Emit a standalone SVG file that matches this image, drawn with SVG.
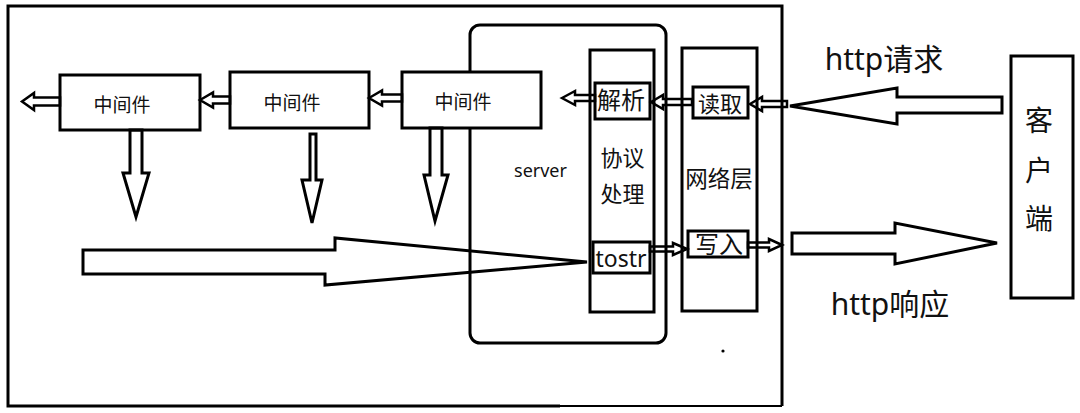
<svg xmlns="http://www.w3.org/2000/svg" width="1080" height="413" viewBox="0 0 1080 413">
  <style>
    .box { fill: #fff; stroke: #000; stroke-width: 3; }
    .open { fill: none; stroke: #000; stroke-width: 3; }
    .arr { fill: none; stroke: #000; stroke-width: 2.5; stroke-linejoin: miter; }
    .big { fill: none; stroke: #000; stroke-width: 3; stroke-linejoin: miter; }
    text { font-family: "Noto Sans", "Noto Sans CJK SC", sans-serif; fill: #111; text-anchor: middle; }
  </style>
  <rect x="0" y="0" width="1080" height="413" fill="#fff"/>

  <g id="frame">
    <path class="open" d="M560,406 L8,406 L8,6 L782,6 L782,406"/>
    <path d="M560,406 L782,406" fill="none" stroke="#000" stroke-width="2"/>
    <circle cx="723" cy="351" r="1.6" fill="#000"/>
  </g>

  <g id="server">
    <rect class="open" x="470" y="25" width="196" height="318" rx="10"/>
    <text x="540.5" y="177" font-size="18">server</text>
  </g>

  <g id="middleware1">
    <rect class="box" x="60" y="75" width="140" height="55"/>
    <text x="122" y="112" font-size="19">中间件</text>
  </g>
  <g id="middleware2">
    <rect class="box" x="230" y="72" width="139" height="56"/>
    <text x="292" y="110" font-size="19">中间件</text>
  </g>
  <g id="middleware3">
    <rect class="box" x="402" y="72" width="139" height="56"/>
    <text x="463" y="109" font-size="19">中间件</text>
  </g>

  <g id="protocol">
    <rect class="box" x="590" y="50" width="64" height="262"/>
    <text x="622.5" y="166" font-size="22">协议</text>
    <text x="622.5" y="202" font-size="22">处理</text>
  </g>
  <g id="parse">
    <rect class="box" x="595" y="83" width="55" height="36"/>
    <text x="621" y="109" font-size="24">解析</text>
  </g>
  <g id="tostr">
    <rect class="box" x="593" y="242" width="57" height="31"/>
    <text x="621" y="267" font-size="23">tostr</text>
  </g>

  <g id="network">
    <rect class="box" x="682" y="48" width="75" height="263"/>
    <text x="719" y="187" font-size="22.5">网络层</text>
  </g>
  <g id="read">
    <rect class="box" x="693" y="87" width="55" height="31"/>
    <text x="720" y="112" font-size="22">读取</text>
  </g>
  <g id="write">
    <rect class="box" x="688" y="231" width="60" height="26"/>
    <text x="719" y="253" font-size="24">写入</text>
  </g>

  <g id="client">
    <rect class="box" x="1011" y="56" width="62" height="242"/>
    <text x="1039" y="131" font-size="28">客</text>
    <text x="1039" y="181" font-size="28">户</text>
    <text x="1039" y="229" font-size="28">端</text>
  </g>

  <g id="labels">
    <text x="884" y="70" font-size="30">http请求</text>
    <text x="890" y="315" font-size="30">http响应</text>
  </g>

  <g id="connectors">
    <!-- small left-pointing arrows -->
    <polygon class="arr" points="22,101.5 34,93 34,97.5 60,97.5 60,105.5 34,105.5 34,110"/>
    <polygon class="arr" points="200,100 213,92.5 213,96.5 230,96.5 230,103.5 213,103.5 213,107.5"/>
    <polygon class="arr" points="369,98 382,90.5 382,94.5 402,94.5 402,101.5 382,101.5 382,105.5"/>
    <polygon class="arr" points="562,98 575,91 575,95 595,95 595,101 575,101 575,105"/>
    <polygon class="arr" points="651,102 663,95 663,99 692,99 692,105 663,105 663,109"/>
    <polygon class="arr" points="750,104 762,97 762,101 787,101 787,107 762,107 762,111"/>
    <!-- small right-pointing arrows -->
    <polygon class="arr" points="687,249 673,243 673,246.5 650,246.5 650,251.5 673,251.5 673,255"/>
    <polygon class="arr" points="782,245 769,239 769,242.5 748,242.5 748,247.5 769,247.5 769,251"/>
    <!-- down arrows -->
    <polygon class="big" points="130,130 130,173 123,173 136,217 149,173 142,173 142,130"/>
    <polygon class="big" points="310,134 310,180 302,180 312,223 322,180 316,180 316,134"/>
    <polygon class="big" points="430,128 430,175 424,175 435,221 448,175 442,175 442,128"/>
    <!-- big arrows -->
    <polygon class="big" points="83,250 335,250 335,238 587,262 325,285 325,274 83,274"/>
    <polygon class="big" points="790,106 897,88 897,97 1002,97 1002,113 897,113 897,124"/>
    <polygon class="big" points="792,233 895,233 895,223 997,243 895,264 895,254 792,254"/>
  </g>
</svg>
